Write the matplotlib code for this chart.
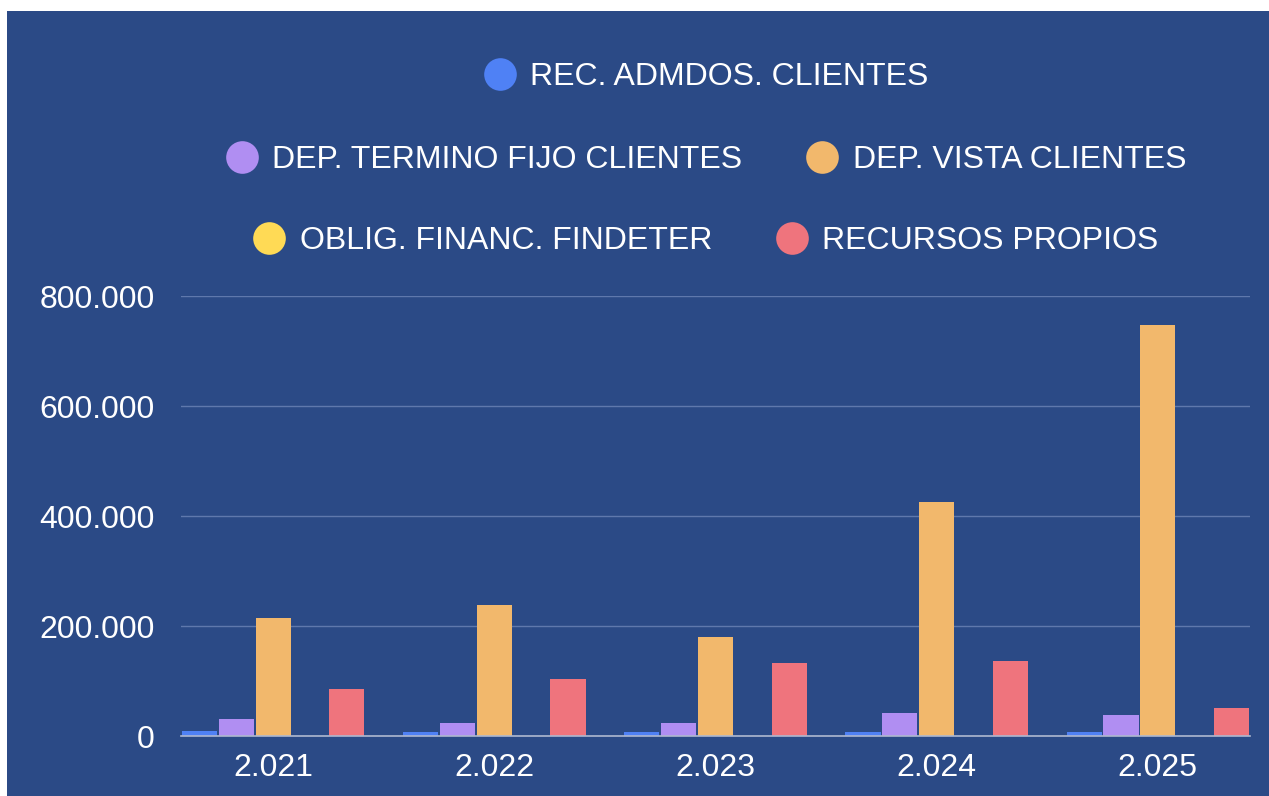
"""
Grouped bars of funding sources per year, dark blue card style.
"""
import numpy as np
import matplotlib.pyplot as plt
from matplotlib.lines import Line2D
from matplotlib.patches import Rectangle
from matplotlib.ticker import FuncFormatter

plt.rcParams['font.family'] = ['Liberation Sans', 'DejaVu Sans']

years = ['2.021', '2.022', '2.023', '2.024', '2.025']
series_names = [
    'REC. ADMDOS. CLIENTES',
    'DEP. TERMINO FIJO CLIENTES',
    'DEP. VISTA CLIENTES',
    'OBLIG. FINANC. FINDETER',
    'RECURSOS PROPIOS',
]
rec_admdos = [9000, 8000, 8000, 8000, 7000]
dep_termino = [31000, 24000, 24000, 42000, 38000]
dep_vista = [215000, 238000, 180000, 425000, 747000]
oblig_findeter = [0, 0, 0, 0, 0]
recursos_propios = [86000, 103000, 133000, 136000, 51000]
values = [rec_admdos, dep_termino, dep_vista, oblig_findeter, recursos_propios]

colors = ['#4F81F5', '#B08EF2', '#F2B86C', '#FFDA55', '#EF747D']
bg = '#2B4A86'

fig = plt.figure(figsize=(12.69, 7.96), dpi=100, facecolor='white')
# blue card, with the thin white margin on top and left
fig.patches.append(Rectangle((7 / 1269, -0.01), 1, 785 / 796 + 0.01, transform=fig.transFigure,
                             facecolor=bg, edgecolor='none', zorder=-5))

ax = fig.add_axes([181 / 1269, 60 / 796, 1069 / 1269, 440 / 796])
ax.set_facecolor('none')
ax.set_zorder(2)

slot = 1 / 6
x = np.arange(len(years))
for j, (name, vals) in enumerate(zip(series_names, values)):
    ax.bar(x + (j - 2) * slot, vals, width=slot * 0.955, color=colors[j], zorder=3)

ax.set_xlim(-2.5 * slot, len(years) - 1 + 2.5 * slot)
ax.set_ylim(0, 800000)
ax.set_yticks([0, 200000, 400000, 600000, 800000])
ax.yaxis.set_major_formatter(FuncFormatter(lambda v, p: f'{v:,.0f}'.replace(',', '.')))
ax.set_xticks(x)
ax.set_xticklabels(years)

for s in ['top', 'right', 'left']:
    ax.spines[s].set_visible(False)
ax.spines['bottom'].set_color('#AEB8D0')
ax.spines['bottom'].set_linewidth(1.2)
ax.spines['bottom'].set_zorder(4)

ax.grid(True, axis='y', color='#5F78AC', linewidth=1)
ax.set_axisbelow(True)
ax.tick_params(axis='both', length=0, colors='white', labelsize=23)
ax.tick_params(axis='x', pad=12)
ax.tick_params(axis='y', pad=19)

# legend in three centred rows
def handle(c):
    return Line2D([], [], marker='o', linestyle='', markersize=23.5,
                  markerfacecolor=c, markeredgewidth=0)

rows = [[0], [1, 2], [3, 4]]
row_y = [1 - 77 / 796, 1 - 160 / 796, 1 - 241 / 796]
for row, yy in zip(rows, row_y):
    fig.legend([handle(colors[i]) for i in row], [series_names[i] for i in row],
               loc='center', bbox_to_anchor=(706 / 1269, yy), ncol=len(row),
               frameon=False, fontsize=23, labelcolor='white',
               handlelength=1.0, handletextpad=0.45, columnspacing=2.0)

fig.savefig('out.png', dpi=100, facecolor=fig.get_facecolor())
